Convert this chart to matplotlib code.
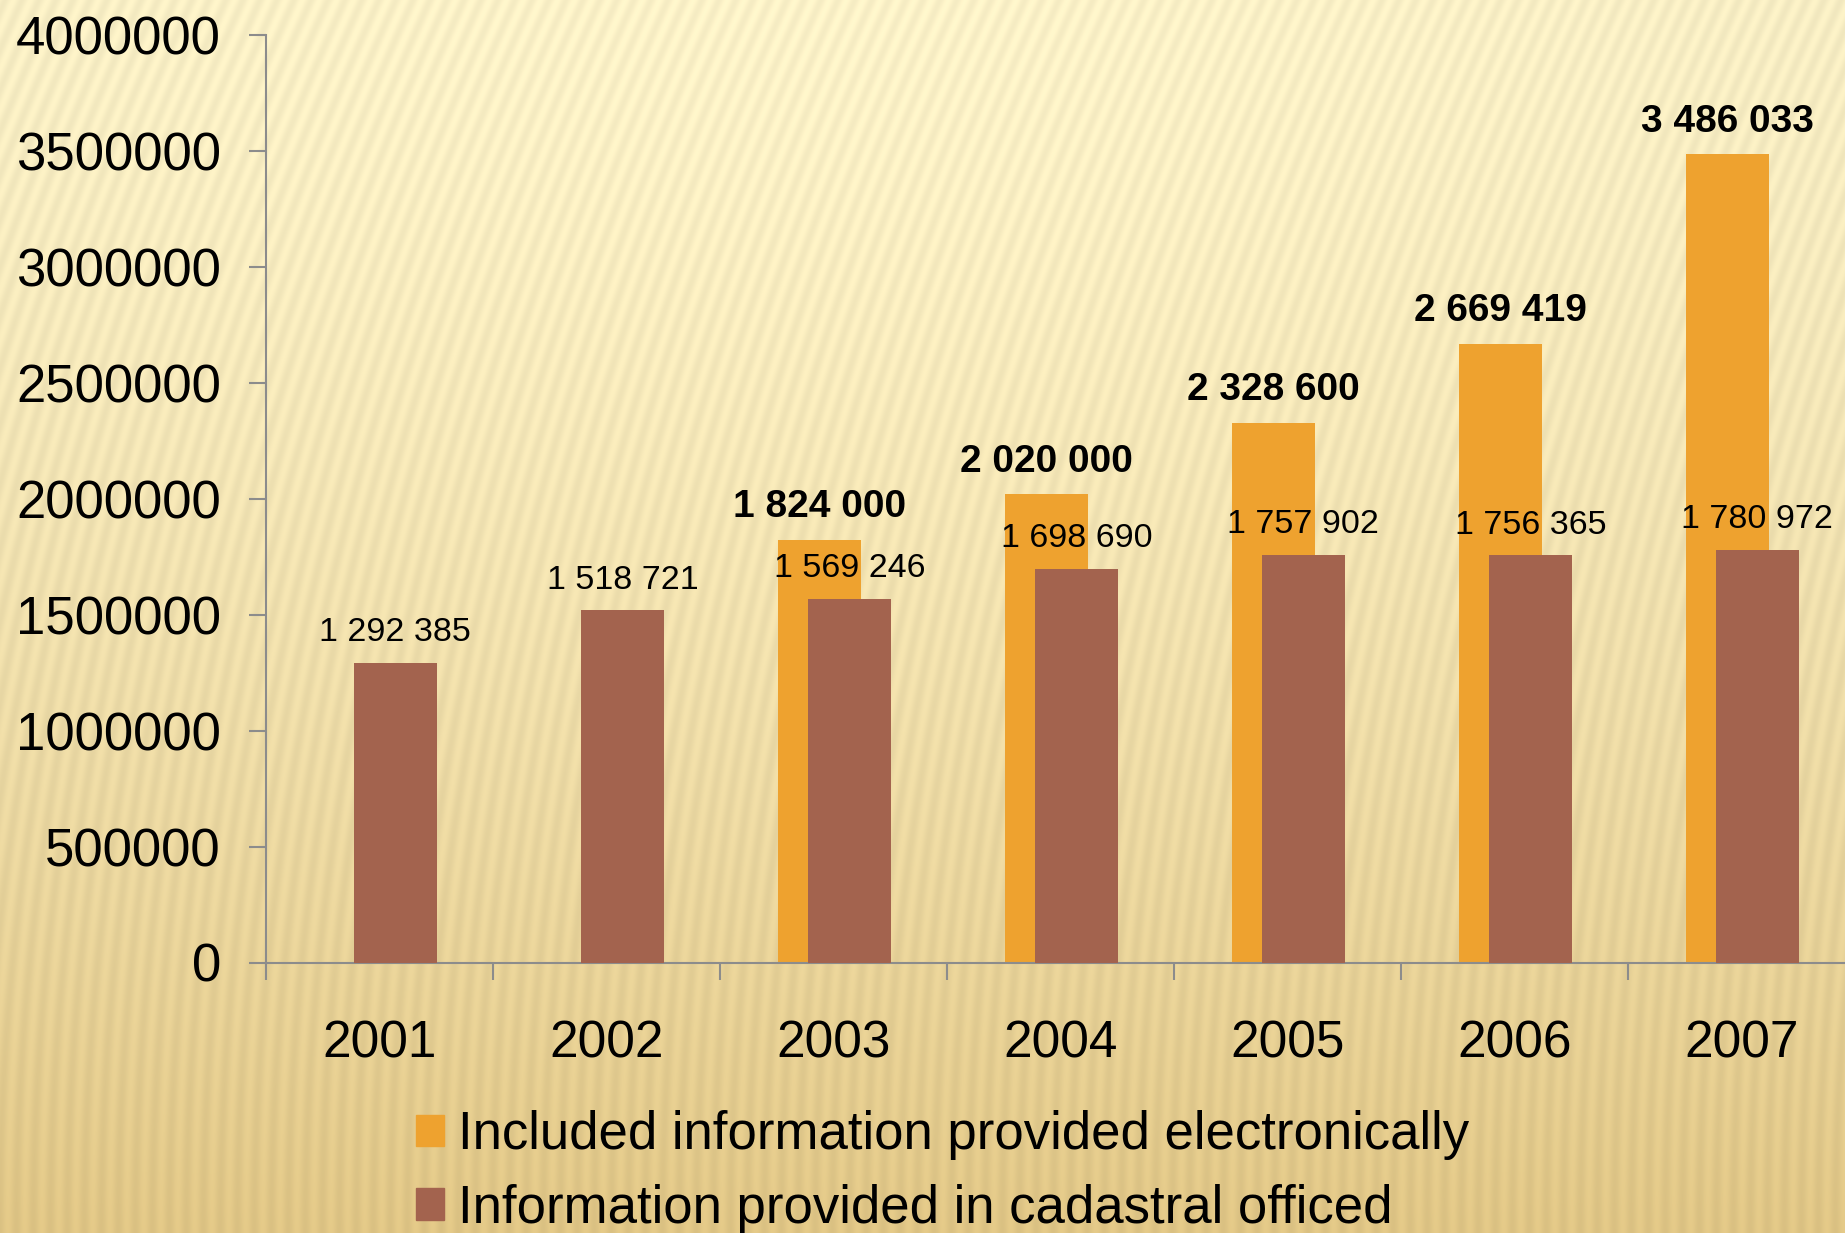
import numpy as np
import matplotlib
matplotlib.use("Agg")
import matplotlib.pyplot as plt
from matplotlib.patches import Patch

# ---- data ----
years = ["2001", "2002", "2003", "2004", "2005", "2006", "2007"]
electronic = [np.nan, np.nan, 1824000, 2020000, 2328600, 2669419, 3486033]
offices = [1292385, 1518721, 1569246, 1698690, 1757902, 1756365, 1780972]
series_names = ["Included information provided electronically",
                "Information provided in cadastral officed"]
yticks = [0, 500000, 1000000, 1500000, 2000000, 2500000, 3000000, 3500000, 4000000]

ORANGE = "#EEA22F"
BROWN = "#A3634E"
FONT = "Liberation Sans"
plt.rcParams["font.family"] = [FONT, "DejaVu Sans"]

W, H = 1845, 1233
fig = plt.figure(figsize=(W / 100, H / 100), dpi=100)

# ---- decorative background ----
rr, cc = np.mgrid[0:H, 0:W].astype(float)
t = (rr / H) ** 1.4
c0 = np.array([251, 241, 198]) / 255.0
c1 = np.array([229, 202, 136]) / 255.0
img = c0[None, None, :] * (1 - t[..., None]) + c1[None, None, :] * t[..., None]
hl = np.exp(-(((cc - 0.45 * W) / (0.55 * W)) ** 2 + ((rr - 0.1 * H) / (0.6 * H)) ** 2))
img = img + 0.03 * hl[..., None]
phase = cc + 0.45 * (rr - rr ** 2 / (2 * H))
stripes = 0.5 + 0.5 * np.sin(2 * np.pi * phase / 17.0)
img = img * (1 - 0.05 * stripes[..., None])
img = np.clip(img, 0, 1)
bgax = fig.add_axes([0, 0, 1, 1], zorder=-10)
bgax.imshow(img, aspect="auto", interpolation="bilinear")
bgax.axis("off")

# ---- chart ----
x0, x1 = 266, 1855
y0, y1 = 962.5, 35.3
ax = fig.add_axes([x0 / W, 1 - y0 / H, (x1 - x0) / W, (y0 - y1) / H])
ax.patch.set_alpha(0)

x = np.arange(len(years))
bw = 0.364
ax.bar(x - 0.062, electronic, width=bw, color=ORANGE, zorder=2)
ax.bar(x + 0.07, offices, width=bw, color=BROWN, zorder=3)

def fmt(v):
    return f"{int(v):,}".replace(",", " ")

for xi, v in zip(x, electronic):
    if not np.isnan(v):
        ax.annotate(fmt(v), (xi - 0.062, v), xytext=(0, 10.5), textcoords="offset points",
                    ha="center", va="bottom", fontsize=28, fontweight="bold", zorder=5)
for xi, v in zip(x, offices):
    ax.annotate(fmt(v), (xi + 0.07, v), xytext=(0, 10.5), textcoords="offset points",
                ha="center", va="bottom", fontsize=24.5, zorder=5)

ax.set_xlim(-0.5, 6.5)
ax.set_ylim(0, 4000000)
ax.set_xticks(np.arange(-0.5, 7, 1.0))
ax.set_xticklabels([])
ax.set_xticks(x, minor=True)
ax.set_xticklabels(years, minor=True, fontsize=37)
ax.tick_params(axis="x", which="minor", length=0, pad=41)
ax.tick_params(axis="x", which="major", direction="out", length=12.5, width=1.5, color="#8C8C8C")
ax.set_yticks(yticks)
ax.set_yticklabels([str(v) for v in yticks], fontsize=38)
ax.tick_params(axis="y", direction="out", length=12.5, width=1.5, color="#8C8C8C", pad=20)
for s in ["top", "right"]:
    ax.spines[s].set_visible(False)
for s in ["left", "bottom"]:
    ax.spines[s].set_color("#8C8C8C")
    ax.spines[s].set_linewidth(1.5)

handles = [Patch(color=ORANGE, label=series_names[0]), Patch(color=BROWN, label=series_names[1])]
fig.legend(handles=handles, loc="upper left", bbox_to_anchor=(416 / W, 1 - 1110 / H),
           frameon=False, borderpad=0, borderaxespad=0, handlelength=0.53, handleheight=0.53,
           handletextpad=0.27, labelspacing=0.45, prop={"family": FONT, "size": 38})

fig.savefig("out.png", dpi=100)
